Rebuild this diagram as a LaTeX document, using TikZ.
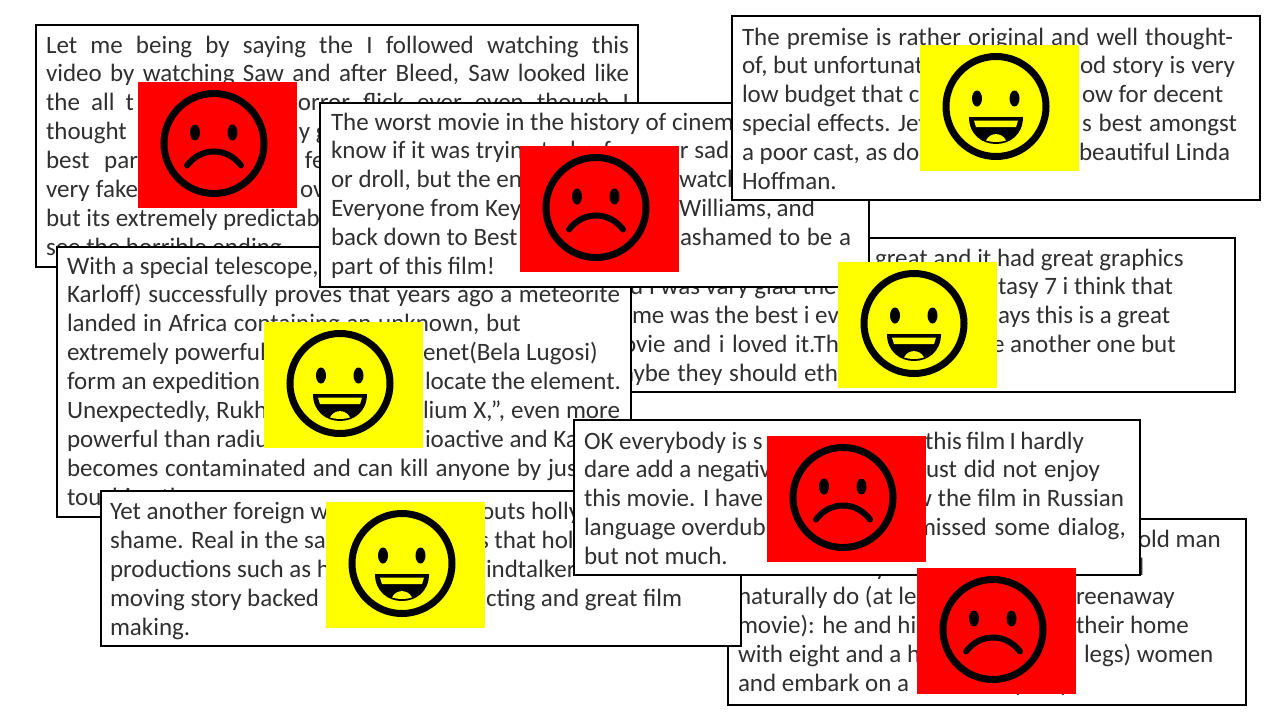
\documentclass[tikz,border=0pt]{standalone}
\usepackage{fontspec}
\setmainfont{Carlito}
\definecolor{ink}{HTML}{303030}
\definecolor{facered}{HTML}{FF0000}
\definecolor{faceyel}{HTML}{FFFF00}
\hfuzz=1000pt \hbadness=10000 \vfuzz=1000pt \vbadness=10000
\newcommand\bx{0}
\newcommand\F[2]{\rlap{\hskip\dimexpr#1pt-\bx pt\relax #2}}
\newcommand\J[3]{\rlap{\hskip\dimexpr#1pt-\bx pt\relax\hbox to #2pt{\spaceskip=.2em plus 1fil minus 1fil\relax #3}}}
\newcommand\Ln[1]{\hbox to \hsize{\vrule height 20pt depth 8.9pt width 0pt #1\hfil}}
\newcommand\Rev[7]{% name x y w h firstskip lines
  \renewcommand\bx{#2}%
  \node[rev,minimum width=#4pt,minimum height=#5pt] (#1) at (#2,#3)
   {\parbox[c][#5pt][t]{#4pt}{\offinterlineskip\vskip#6pt\relax #7}};}
\tikzset{
  rev/.style={draw=black,line width=1.1pt,fill=white,inner sep=0pt,outer sep=0pt,anchor=north west,
    text=ink,font=\fontsize{25}{29}\selectfont},
  emo/.style={inner sep=0pt,outer sep=0pt,anchor=north west,minimum width=159pt,minimum height=126pt},
  redbox/.style={emo,fill=facered},
  yelbox/.style={emo,fill=faceyel},
  sadface/.pic={
    \begin{scope}[shift={(76,61.5)}]
    \draw[line width=7pt,black] (0,0) circle[radius=50pt];
    \fill[black] (-19,-11) ellipse[x radius=5pt,y radius=8pt];
    \fill[black] (18.5,-11) ellipse[x radius=5pt,y radius=8pt];
    \draw[line width=6pt,black,line cap=round] (-27,22) .. controls (-13,3.3) and (13,3.3) .. (27,22);
    \end{scope}},
  happyface/.pic={
    \begin{scope}[shift={(76,61.5)}]
    \draw[line width=7pt,black] (0,0) circle[radius=50pt];
    \fill[black] (-19,-8) ellipse[x radius=5pt,y radius=8pt];
    \fill[black] (18.5,-8) ellipse[x radius=5pt,y radius=8pt];
    \fill[black] (-27,10.5) -- (27,10.5) .. controls (27,28) and (14,37.5) .. (0,37.5) .. controls (-14,37.5) and (-27,28) .. cycle;
    \fill[faceyel] (-22,14) -- (22,14) -- (20,20.7) -- (-20,20.7) -- cycle;
    \fill[faceyel] (-10,34) .. controls (-6,25.5) and (6,25.5) .. (10,34) .. controls (4,36) and (-4,36) .. cycle;
    \end{scope}},
}
\begin{document}
\begin{tikzpicture}[x=1pt,y=-1pt]
\useasboundingbox (0,0) rectangle (1280,720);
\fill[white] (0,0) rectangle (1280,720);
\Rev{r1}{36}{25}{602}{242}{8}{%
 \Ln{\J{46}{583}{Let me being by saying the I followed watching this}}
 \Ln{\J{46}{583}{video by watching Saw and after Bleed, Saw looked like}}
 \Ln{\J{46}{88}{the all t}\J{298}{331}{orror flick ever even though I}}
 \Ln{\F{46}{thought}\F{299}{y g}}
 \Ln{\J{46}{92}{best par}\F{305}{fe}}
 \Ln{\J{46}{92}{very fake}\F{300}{ove}}
 \Ln{\F{46}{but its extremely predictab}}
 \Ln{\F{46}{see the horrible ending.}}}
\node[redbox] (e1) at (138,82) {}; \pic at (e1.north west) {sadface};
\Rev{r5}{600}{238}{635}{154}{8}{%
 \Ln{\F{875}{great and it had great graphics}}
 \Ln{\F{630}{d I was vary glad the}\F{998}{tasy 7 i think that}}
 \Ln{\F{632}{me was the best i ev}\F{998}{ays this is a great}}
 \Ln{\J{623}{216}{ovie and i loved it.Th}\F{992}{e another one but}}
 \Ln{\J{622}{216}{aybe they should eth}}}
\Rev{r4}{57}{247}{574}{270}{7}{%
 \Ln{\F{67}{With a special telescope,}}
 \Ln{\J{67}{553}{Karloff) successfully proves that years ago a meteorite}}
 \Ln{\J{67}{454}{landed in Africa containing an unknown, but}}
 \Ln{\F{67}{extremely powerful}\F{423}{enet(Bela Lugosi)}}
 \Ln{\F{67}{form an expedition}\J{425}{196}{locate the element.}}
 \Ln{\F{67}{Unexpectedly, Rukh}\J{423}{197}{lium X,'', even more}}
 \Ln{\F{67}{powerful than radiu}\F{425}{ioactive and Ka}}
 \Ln{\J{67}{510}{becomes contaminated and can kill anyone by jus}}
 \Ln{\F{67}{touching them.}}}
\node[yelbox] (e4) at (264,322) {}; \pic at (e4.north west) {happyface};
\Rev{r3}{320}{103}{549}{184}{7}{%
 \Ln{\J{331}{415}{The worst movie in the history of cinema}}
 \Ln{\F{331}{know if it was tryin}\J{541}{70}{to be f}\F{680}{r sad.}}
 \Ln{\F{331}{or droll, but the en}\F{679}{watch}}
 \Ln{\F{331}{Everyone from Key}\J{679}{136}{Williams, and}}
 \Ln{\F{331}{back down to Best}\J{680}{171}{ashamed to be a}}
 \Ln{\F{331}{part of this film!}}}
\Rev{r2}{732}{16}{528}{184}{9}{%
 \Ln{\J{742}{491}{The premise is rather original and well thought-}}
 \Ln{\F{742}{of, but unfortunat}\J{1080}{155}{od story is very}}
 \Ln{\F{742}{low budget that c}\F{1082}{ow for decent}}
 \Ln{\F{742}{special effects. Jef}\J{1082}{155}{s best amongst}}
 \Ln{\F{742}{a poor cast, as do}\F{1079}{beautiful Linda}}
 \Ln{\F{742}{Hoffman.}}}
\node[redbox] (e3) at (520,146) {}; \pic at (e3.north west) {sadface};
\node[yelbox] (e2) at (920,45) {}; \pic at (e2.north west) {happyface};
\node[yelbox] (e5) at (838,262) {}; \pic at (e5.north west) {happyface};
\Rev{r8}{728}{519}{518}{186}{8}{%
 \Ln{\F{1138}{old man}}
 \Ln{\F{875}{y}\F{1131}{d}}
 \Ln{\F{738}{naturally do (at le}\F{1076}{reenaway}}
 \Ln{\F{738}{movie): he and his}\F{1076}{their home}}
 \Ln{\F{738}{with eight and a h}\F{1084}{legs) women}}
 \Ln{\F{738}{and embark on a}\F{1014}{y}\F{1059}{y}}}
\Rev{r7}{101}{491}{640}{155}{8.5}{%
 \Ln{\F{110}{Yet another foreign w}\F{481}{outs holly}}
 \Ln{\F{110}{shame. Real in the sa}\F{479}{s that hol}}
 \Ln{\F{110}{productions such as h}\F{486}{indtalker}}
 \Ln{\F{110}{moving story backed}\J{486}{196}{cting and great film}}
 \Ln{\F{110}{making.}}}
\node[yelbox] (e7) at (326,502) {}; \pic at (e7.north west) {happyface};
\Rev{r6}{574}{420}{566}{155}{9}{%
 \Ln{\F{584}{OK everybody is s}\J{925}{159}{this film I hardly}}
 \Ln{\F{584}{dare add a negativ}\J{926}{174}{ust did not enjoy}}
 \Ln{\F{584}{this movie. I have}\J{914}{210}{w the film in Russian}}
 \Ln{\F{584}{language overdub}\J{916}{210}{missed some dialog,}}
 \Ln{\F{584}{but not much.}}}
\node[redbox] (e6) at (767,436) {}; \pic at (e6.north west) {sadface};
\node[redbox] (e8) at (917,568) {}; \pic at (e8.north west) {sadface};
\end{tikzpicture}
\end{document}
